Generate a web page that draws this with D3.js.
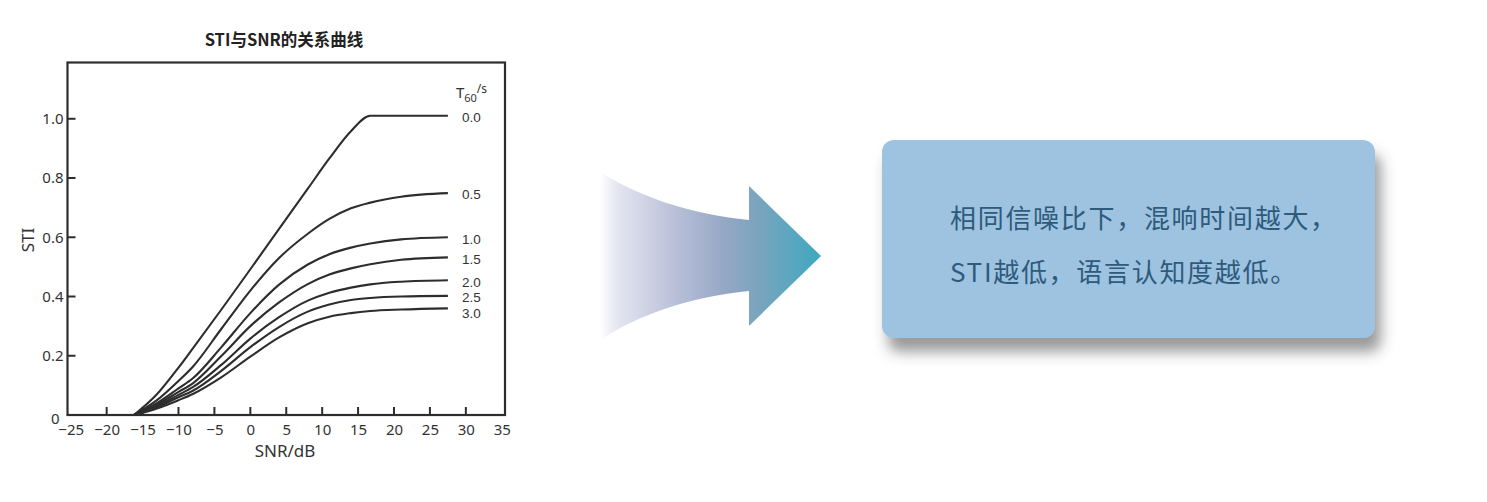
<!DOCTYPE html>
<html><head><meta charset="utf-8">
<script src="https://cdn.jsdelivr.net/npm/d3@7"></script>
<style>
html,body{margin:0;padding:0;background:#fff;}
svg{display:block;font-family:"Noto Sans CJK SC","Noto Sans",sans-serif;}
</style></head>
<body>
<svg id="c" width="1487" height="502"></svg>
<script>
// ---- data ----
const seriesNames = ["0.0","0.5","1.0","1.5","2.0","2.5","3.0"];
const snrPoints = [-16.2,-13,-10,-8,-4,0,4,8,11,14,16.7,21,27.5];
const sti_00 = [0,0.07,0.16,0.225,0.357,0.492,0.628,0.764,0.866,0.958,1.01,1.01,1.01];
const sti_05 = [0,0.05,0.115,0.163,0.292,0.42,0.53,0.612,0.662,0.698,0.717,0.737,0.749];
const sti_10 = [0,0.04,0.09,0.124,0.23,0.344,0.44,0.508,0.543,0.565,0.579,0.593,0.60];
const sti_15 = [0,0.035,0.078,0.107,0.2,0.3,0.38,0.442,0.474,0.495,0.509,0.524,0.532];
const sti_20 = [0,0.03,0.068,0.094,0.17,0.258,0.33,0.386,0.413,0.43,0.441,0.45,0.455];
const sti_25 = [0,0.026,0.06,0.082,0.15,0.229,0.297,0.349,0.373,0.388,0.395,0.4,0.402];
const sti_30 = [0,0.022,0.05,0.071,0.128,0.197,0.262,0.31,0.332,0.344,0.351,0.356,0.36];
const seriesValues = [sti_00,sti_05,sti_10,sti_15,sti_20,sti_25,sti_30];
const xTicks = [-25,-20,-15,-10,-5,0,5,10,15,20,25,30,35];
const yTicks = [0,0.2,0.4,0.6,0.8,1.0];
const chartTitle = "STI与SNR的关系曲线";
const xTitle = "SNR/dB";
const yTitle = "STI";
const noteLines = ["相同信噪比下，混响时间越大，","STI越低，语言认知度越低。"];

// ---- drawing ----
const svg = d3.select("#c");
const ink = "#2d2d2d";
const latin = "Noto Sans, sans-serif";
const x = d3.scaleLinear().domain([-25.45,35.45]).range([67.5,505]);
const y = d3.scaleLinear().domain([0,1.19]).range([415,62.5]);

svg.append("text").attr("x",284).attr("y",46).attr("text-anchor","middle")
  .attr("font-size",16.5).attr("font-weight","bold").attr("fill","#222").text(chartTitle);

// frame
svg.append("rect").attr("x",x.range()[0]).attr("y",y.range()[1])
  .attr("width",x.range()[1]-x.range()[0]).attr("height",y.range()[0]-y.range()[1])
  .attr("fill","none").attr("stroke",ink).attr("stroke-width",2.2);

// x axis
const xa = svg.append("g").attr("transform",`translate(0,${y(0)})`)
  .call(d3.axisBottom(x).tickValues(xTicks).tickSize(0).tickPadding(9)
    .tickFormat(d=>String(d).replace("-","−")));
xa.select(".domain").remove();
xa.selectAll("text").attr("font-size",15).attr("fill","#333").attr("font-family",latin);
svg.append("g").selectAll("line").data(xTicks.filter(d=>d>-25&&d<35)).join("line")
  .attr("x1",d=>x(d)).attr("x2",d=>x(d)).attr("y1",y(0)).attr("y2",y(0)-8)
  .attr("stroke",ink).attr("stroke-width",2);

// y axis
const ya = svg.append("g").attr("transform",`translate(${x.range()[0]},0)`)
  .call(d3.axisLeft(y).tickValues(yTicks).tickSize(0).tickPadding(4)
    .tickFormat(d=>d===0?"0":d3.format(".1f")(d)));
ya.select(".domain").remove();
ya.selectAll("text").attr("font-size",15).attr("fill","#333").attr("font-family",latin);
ya.selectAll(".tick").filter(d=>d===0).select("text").attr("dy","0.55em").attr("x",-8);
svg.append("g").selectAll("line").data(yTicks.filter(d=>d>0)).join("line")
  .attr("x1",x.range()[0]).attr("x2",x.range()[0]+8).attr("y1",d=>y(d)).attr("y2",d=>y(d))
  .attr("stroke",ink).attr("stroke-width",2);

svg.append("text").attr("x",285).attr("y",457).attr("text-anchor","middle")
  .attr("font-size",17).attr("fill","#333").attr("font-family",latin).text(xTitle);
svg.append("text").attr("transform","translate(34,240) rotate(-90)").attr("text-anchor","middle")
  .attr("font-size",17).attr("fill","#333").attr("font-family",latin).text(yTitle);

// curves
const line = d3.line().x(d=>x(d[0])).y(d=>y(d[1])).curve(d3.curveMonotoneX);
seriesValues.forEach(vals=>{
  svg.append("path").datum(snrPoints.map((s,i)=>[s,vals[i]]))
    .attr("d",line).attr("fill","none").attr("stroke",ink).attr("stroke-width",2.1)
    .attr("stroke-linejoin","round");
});

// series labels (collision-avoided from curve end values)
let prev = -Infinity;
const labelX = x(snrPoints[snrPoints.length-1]) + 14;
seriesNames.forEach((n,i)=>{
  let cy = y(seriesValues[i][seriesValues[i].length-1]) + 1.5;
  if (cy < prev + 15.6) cy = prev + 15.6;
  prev = cy;
  svg.append("text").attr("x",labelX).attr("y",cy).attr("dy","0.36em")
    .attr("font-size",13.5).attr("fill","#333").attr("font-family","Liberation Sans, sans-serif").text(n);
});
const t60 = svg.append("text").attr("x",labelX-6).attr("y",98)
  .attr("fill","#333").attr("font-family",latin).attr("font-size",15);
t60.append("tspan").text("T");
t60.append("tspan").attr("font-size",11).attr("dy",4).text("60");
t60.append("tspan").attr("font-size",12).attr("dy",-9).text("/s");

// ---- arrow ----
const defs = svg.append("defs");
const g = defs.append("linearGradient").attr("id","ag").attr("gradientUnits","userSpaceOnUse")
  .attr("x1",600).attr("x2",821).attr("y1",0).attr("y2",0);
[[0,"#ffffff"],[0.08,"#e3e5f0"],[0.3,"#bfc5dc"],[0.55,"#97a8c6"],[0.72,"#7aa4be"],[1,"#3ea8bf"]]
  .forEach(s=>g.append("stop").attr("offset",s[0]).attr("stop-color",s[1]));
const ap = d3.path();
ap.moveTo(600,172);
ap.bezierCurveTo(640,197,690,214,749,220);
ap.lineTo(749,186); ap.lineTo(821,256); ap.lineTo(749,326); ap.lineTo(749,291);
ap.bezierCurveTo(690,297,640,314,600,340);
ap.closePath();
svg.append("path").attr("d",ap.toString()).attr("fill","url(#ag)");

// ---- note box ----
const f = defs.append("filter").attr("id","sh").attr("x","-10%").attr("y","-20%").attr("width","130%").attr("height","160%");
f.append("feDropShadow").attr("dx",6).attr("dy",14).attr("stdDeviation",7)
  .attr("flood-color","#4a4a4a").attr("flood-opacity",0.55);
svg.append("rect").attr("x",882).attr("y",140).attr("width",493).attr("height",198).attr("rx",12)
  .attr("fill","#9dc3e0").attr("filter","url(#sh)");
noteLines.forEach((t,i)=>{
  svg.append("text").attr("x",950).attr("y",228+i*54).attr("font-size",26)
    .attr("letter-spacing",1.7)
    .attr("fill","#2e5a7c").attr("font-family","Noto Sans CJK SC").text(t);
});
</script>
</body></html>
